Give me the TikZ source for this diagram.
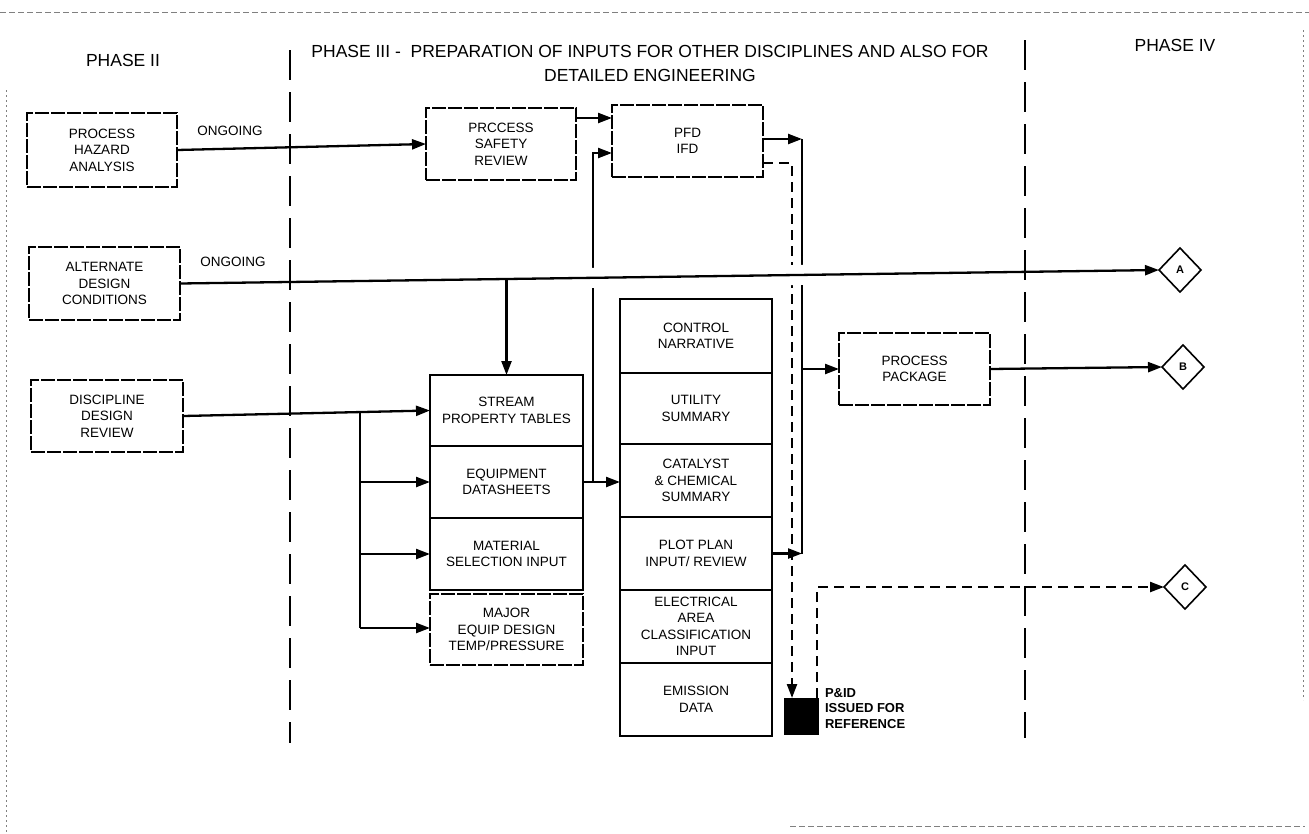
\documentclass[tikz,border=0pt]{standalone}
\usepackage{fontspec}
\setmainfont{Liberation Sans}
\usetikzlibrary{arrows.meta,calc,shapes.geometric}
\begin{document}
\begin{tikzpicture}[x=1pt,y=-1pt,
  every node/.style={inner sep=0pt, outer sep=0pt},
  txt/.style={font=\fontsize{13.5}{16.5}\selectfont, align=center},
  sbox/.style={txt, draw, line width=1.2pt, dash pattern=on 14pt off 2pt},
  cell/.style={txt, draw, line width=1.5pt},
  arr/.style={line width=2.3pt, -{Triangle[length=14pt,width=10pt]}},
  plain/.style={line width=2.3pt},
  dasharr/.style={line width=2.3pt, dash pattern=on 10pt off 6pt, -{Triangle[length=14pt,width=10pt]}},
  divider/.style={line width=2.5pt, dash pattern=on 30pt off 12pt},
  dia/.style={diamond, draw, line width=1.6pt, minimum width=42pt, minimum height=44pt, font=\bfseries\fontsize{11}{13}\selectfont},
  title/.style={font=\fontsize{17.5}{24}\selectfont, align=center},
  lbl/.style={font=\fontsize{13.5}{15.5}\selectfont},
  scanedge/.style={gray, line width=0.6pt, dash pattern=on 6pt off 3pt},
  scanside/.style={gray, line width=0.8pt, dash pattern=on 2pt off 3pt}
]
\useasboundingbox (0,0) rectangle (1309,833);
\fill[white] (0,0) rectangle (1309,833);

% scanned page edges
\draw[scanedge] (0,12) -- (1309,12);
\draw[scanside] (6,90) -- (6,833);
\draw[scanside] (1303,30) -- (1303,700);
\draw[scanedge] (790,826) -- (1305,826);

% headings
\node[font=\fontsize{17.5}{21}\selectfont] (ph2) at (123,60) {PHASE II};
\node[title] (ph3) at (650,63) {PHASE III -\ \ PREPARATION OF INPUTS FOR OTHER DISCIPLINES AND ALSO FOR\\DETAILED ENGINEERING};
\node[font=\fontsize{17.5}{21}\selectfont] (ph4) at (1175,45) {PHASE IV};

% phase II boxes
\node[sbox, minimum width=150pt, minimum height=74pt] (pha) at (102,150) {PROCESS\\HAZARD\\ANALYSIS};
\node[sbox, minimum width=151pt, minimum height=73pt] (adc) at (104.5,283.5) {ALTERNATE\\DESIGN\\CONDITIONS};
\node[sbox, minimum width=152pt, minimum height=72pt] (ddr) at (107,416) {DISCIPLINE\\DESIGN\\REVIEW};

% phase III top boxes
\node[sbox, minimum width=150pt, minimum height=72pt] (psr) at (501,144) {PRCCESS\\SAFETY\\REVIEW};
\node[sbox, minimum width=151pt, minimum height=72pt] (pfd) at (687.5,141) {PFD\\IFD};

% stream stack
\node[cell, minimum width=153pt, minimum height=71pt] (stream) at (506.5,410.5) {STREAM\\PROPERTY TABLES};
\node[cell, minimum width=153pt, minimum height=72pt] (equip) at (506.5,482) {EQUIPMENT\\DATASHEETS};
\node[cell, minimum width=153pt, minimum height=72pt] (mat) at (506.5,554) {MATERIAL\\SELECTION INPUT};
\node[sbox, minimum width=153pt, minimum height=71pt] (major) at (506.5,629.5) {MAJOR\\EQUIP DESIGN\\TEMP/PRESSURE};

% right column stack
\node[cell, minimum width=152pt, minimum height=74pt] (ctrl) at (696,336) {CONTROL\\NARRATIVE};
\node[cell, minimum width=152pt, minimum height=71pt] (util) at (696,408.5) {UTILITY\\SUMMARY};
\node[cell, minimum width=152pt, minimum height=73pt] (cat) at (696,480.5) {CATALYST\\\& CHEMICAL\\SUMMARY};
\node[cell, minimum width=152pt, minimum height=73pt] (plot) at (696,553.5) {PLOT PLAN\\INPUT/ REVIEW};
\node[cell, minimum width=152pt, minimum height=73pt] (elec) at (696,626.5) {ELECTRICAL\\AREA\\CLASSIFICATION\\INPUT};
\node[cell, minimum width=152pt, minimum height=73pt] (emis) at (696,699.5) {EMISSION\\DATA};

% process package
\node[sbox, minimum width=151pt, minimum height=72pt] (pp) at (914.5,369) {PROCESS\\PACKAGE};

% P&ID issued
\node[fill=black, minimum width=35pt, minimum height=37pt] (pid) at (801.5,716.5) {};
\node[anchor=north west, align=left, font=\bfseries\fontsize{13}{15.5}\selectfont] (pidlbl) at (825,688) {P\&ID\\ISSUED FOR\\REFERENCE};

% ongoing labels
\node[lbl] (og1) at (230,131) {ONGOING};
\node[lbl] (og2) at (233,262) {ONGOING};

% off-page connectors
\node[dia] (A) at (1180,270) {A};
\node[dia] (B) at (1183,367) {B};
\node[dia] (C) at (1185,587) {C};

% connectors
\coordinate (J1) at (593,482);
\coordinate (D0) at (360,412);
\coordinate (D3) at (360,628);
\coordinate (BT) at (802,139);
\coordinate (BB) at (802,553.5);

\draw[arr] (pha.east) -- (psr.west);
\draw[arr] (psr.east |- 0,118) -- (pfd.west |- 0,118);
\draw[arr] (J1) |- (pfd.west |- 0,153);
\draw[arr] (equip.east) -- (equip.east -| cat.west);

\draw[arr] (ddr.east) -- (stream.west);
\draw[plain] (D0) -- (D3);
\draw[arr] (D0 |- equip.west) -- (equip.west);
\draw[arr] (D0 |- mat.west) -- (mat.west);
\draw[arr] (D3) -- (D3 -| major.west);

\draw[arr] (pfd.east |- BT) -- (BT);
\draw[plain] (BT) -- (BB);
\draw[arr] (plot.east) -- (BB);
\draw[arr] (BT |- pp.west) -- (pp.west);
\draw[arr] (pp.east) -- (B.west);

\draw[dasharr] (pfd.east |- 0,163) -| (pid.north -| 792,0);
\draw[dasharr] (pid.north -| 817,0) |- (C.west);

% alternate design line with crossing gaps
\draw[white, line width=20pt] ($(adc.east)!0.4!(A.west)$) -- ($(adc.east)!0.7!(A.west)$);
\draw[arr] (adc.east) -- (A.west);
\draw[arr] (stream.north |- 0,279) -- (stream.north);

% phase dividers
\draw[divider] (290,50) -- (290,743);
\draw[divider] (1025,40) -- (1025,738);
\end{tikzpicture}
\end{document}
